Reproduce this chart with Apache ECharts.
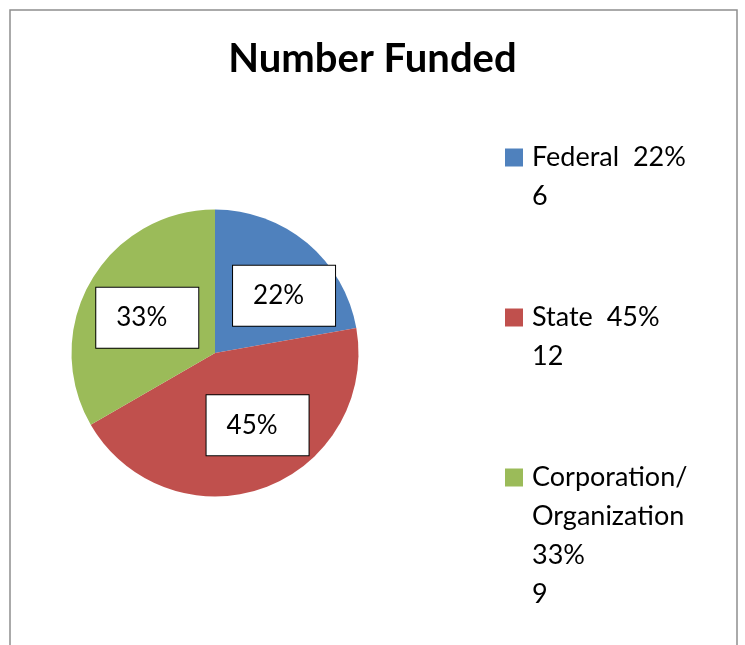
<!DOCTYPE html>
<html>
<head>
<meta charset="utf-8">
<script src="https://cdn.jsdelivr.net/npm/echarts@6/dist/echarts.min.js"></script>
<style>
  html, body { margin: 0; padding: 0; background: #fff; }
  #main { width: 745px; height: 645px; }
</style>
</head>
<body>
<div id="main"></div>
<script>
// data
const categories = ['Federal', 'State', 'Corporation/Organization'];
const nameLines = [['Federal'], ['State'], ['Corporation/', 'Organization']];
const values = [6, 12, 9];
const pctLabels = ['22%', '45%', '33%'];
const colors = ['#4F81BD', '#C0504D', '#9BBB59'];

const FONT = 'Lato';

// legend text: square + name + pct, then count on its own line
function legendText(name) {
  const i = categories.indexOf(name);
  const lines = nameLines[i].length === 1
    ? [nameLines[i][0] + '  ' + pctLabels[i], String(values[i])]
    : nameLines[i].concat([pctLabels[i], String(values[i])]);
  return lines.map((l, k) => (k === 0 ? `{sq${i}| }{gap| }` : '{ind| }') + `{t|${l}}`).join('\n');
}

const rich = {
  t: { fontFamily: FONT, fontSize: 27, lineHeight: 39, color: '#000' },
  gap: { width: 9 },
  ind: { width: 27 }
};
colors.forEach((c, i) => {
  rich['sq' + i] = { width: 18, height: 18, backgroundColor: c };
});

// small nudges so the boxes sit where the original put them
const labelNudge = [{ dx: 21, dy: 0 }, { dx: 17, dy: 2 }, { dx: -3, dy: 2 }];

const chart = echarts.init(document.getElementById('main'));
chart.setOption({
  animation: false,
  graphic: [{
    type: 'rect',
    shape: { x: 10, y: 10, width: 727, height: 700 },
    style: { fill: 'none', stroke: '#8f8f8f', lineWidth: 1.5 },
    silent: true
  }],
  title: {
    text: 'Number Funded',
    left: 'center',
    top: 34,
    textStyle: { fontFamily: FONT, fontWeight: 'bold', fontSize: 40, color: '#000' }
  },
  legend: {
    orient: 'vertical',
    left: 500,
    top: 138,
    height: 700,
    padding: 0,
    itemWidth: 0,
    itemHeight: 18,
    itemGap: 82,
    selectedMode: false,
    data: categories,
    formatter: legendText,
    textStyle: { fontFamily: FONT, fontSize: 27, lineHeight: 39, rich: rich }
  },
  series: [{
    type: 'pie',
    center: [215, 353],
    radius: 143.5,
    startAngle: 90,
    clockwise: true,
    silent: true,
    emphasis: { disabled: true },
    labelLine: { show: false },
    label: {
      show: true,
      position: 'inside',
      formatter: p => pctLabels[p.dataIndex],
      fontFamily: FONT,
      fontSize: 26,
      lineHeight: 28,
      color: '#000',
      backgroundColor: '#fff',
      borderColor: '#000',
      borderWidth: 1,
      padding: [16, 31, 16, 20]
    },
    labelLayout: p => labelNudge[p.dataIndex],
    data: categories.map((c, i) => ({
      name: c,
      value: values[i],
      itemStyle: { color: colors[i] }
    }))
  }]
});
</script>
</body>
</html>
